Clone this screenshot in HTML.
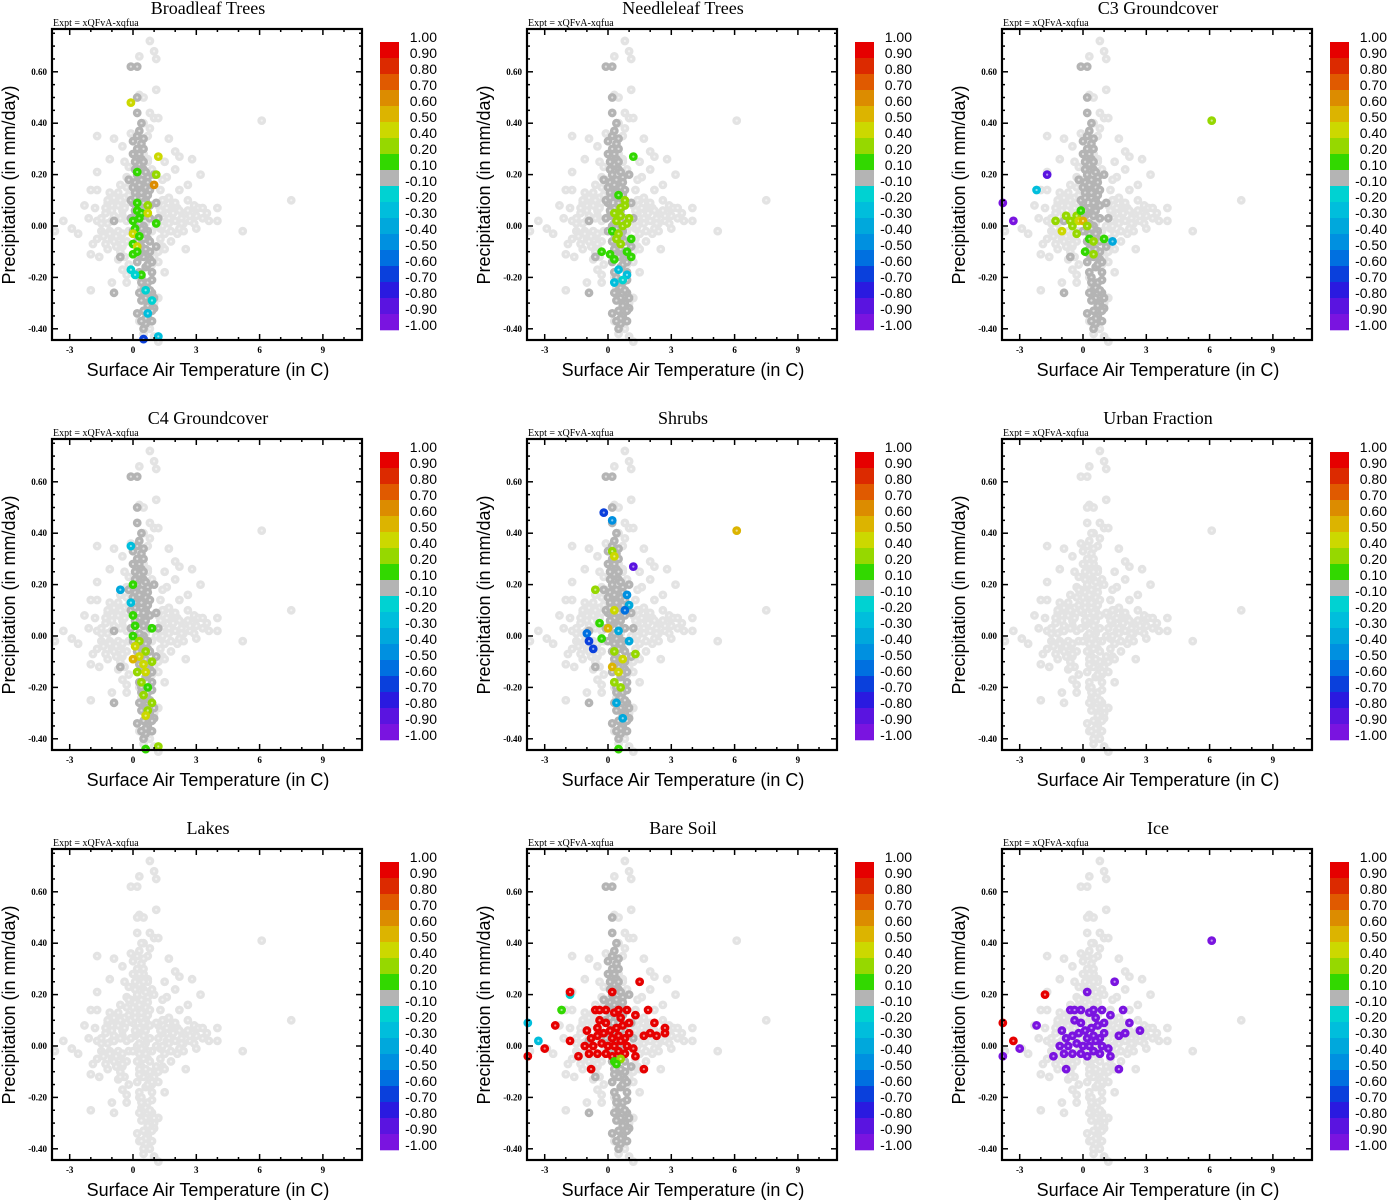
<!DOCTYPE html>
<html><head><meta charset="utf-8"><style>
body{margin:0;background:#fff;}
svg{display:block;}
</style></head><body>
<svg id="fig" width="1388" height="1200" xmlns="http://www.w3.org/2000/svg"></svg>
<script>
// ---- shared data ----
const titles = ["Broadleaf Trees","Needleleaf Trees","C3 Groundcover","C4 Groundcover","Shrubs","Urban Fraction","Lakes","Bare Soil","Ice"];
const xTicks = [-3,0,3,6,9];
const yTicks = [-0.40,-0.20,0.00,0.20,0.40,0.60];
const cbLabels = ["1.00","0.90","0.80","0.70","0.60","0.50","0.40","0.20","0.10","-0.10","-0.20","-0.30","-0.40","-0.50","-0.60","-0.70","-0.80","-0.90","-1.00"];
const cbBounds = [1,0.9,0.8,0.7,0.6,0.5,0.4,0.2,0.1,-0.1,-0.2,-0.3,-0.4,-0.5,-0.6,-0.7,-0.8,-0.9,-1];
const cbColors = ["#e60000","#dc2a00","#e05a00","#dc8c00","#dcb400","#ccd800","#96d800","#32d800","#b4b4b4","#00d2d2","#00bedc","#00a8dc","#0090e0","#0070e0","#0a40dc","#2a1ae0","#5a14e0","#7a14e0"];
// light cloud (temperature C, precip mm/day)
const cloudX = [0.8,1.0,1.1,0.3,1.1,0.5,0.3,0.8,1.0,1.2,6.1,-1.7,-0.9,-0.1,1.7,-0.5,2.0,2.2,-1.1,2.8,1.5,0.7,-1.7,2.0,3.2,-0.3,1.6,2.6,-2.0,-1.7,-0.7,-1.1,2.2,-2.3,-1.0,2.6,2.9,3.5,4.0,7.5,2.0,1.8,2.5,3.0,3.3,-3.3,-1.7,-0.5,-2.9,-2.6,-1.5,-0.7,1.6,2.2,2.7,3.6,4.0,5.2,-1.7,-1.0,-0.3,1.3,1.8,1.4,2.5,-1.2,-2.0,-1.6,-0.6,1.0,-0.2,-1.0,-0.3,-2.0,-3.7,-1.3,-0.9,-0.5,-1.4,-1.1,-0.8,1.4,1.7,2.1,2.4,2.8,3.1,1.5,1.9,2.3,-1.2,-0.8,-0.4,-1.5,-1.0,-0.6,-0.2,1.2,1.5,-0.9,-0.5,-1.3,2.6,3.0,1.1,0.9,1.3,0.2,0.6,0.4,0.9,0.5,0.8,0.7,0.4,1.0,0.6,0.8,0.5,1.2,0.3,0.6,0.9,-0.1,0.5,0.7,1.2,0.3,1.0,
 -1.2,-0.9,-0.6,-0.3,-1.4,-1.1,-0.8,-0.5,-0.2,-1.3,-1.0,-0.7,-0.4,-1.5,-1.2,-0.9,-0.6,-0.3,-0.8,-0.5,1.4,1.7,2.0,2.3,1.5,1.8,2.1,2.4,2.7,1.3,1.6,1.9,2.2,1.4,1.7,2.0,1.2,1.5,-0.7,-0.4,-0.6,-0.3,-0.2,-0.4,-0.5,-0.3,1.3,1.4,1.2,1.5,-1.8,-2.1,-1.9,3.3,2.9];
const cloudY = [0.72,0.68,0.65,0.66,0.53,0.50,0.51,0.44,0.42,0.42,0.41,0.35,0.34,0.36,0.34,0.31,0.29,0.27,0.26,0.26,0.25,0.26,0.21,0.22,0.20,0.19,0.19,0.16,0.14,0.14,0.13,0.13,0.14,0.08,0.08,0.10,0.08,0.05,0.07,0.10,0.08,0.06,0.05,0.04,0.03,0.02,0.02,0.04,-0.01,-0.03,-0.02,-0.02,0.02,-0.01,0.02,0.02,0.02,-0.02,-0.05,-0.05,-0.06,-0.05,-0.06,-0.08,-0.09,-0.09,-0.11,-0.12,-0.10,-0.12,-0.15,-0.22,-0.22,-0.25,-0.02,0.05,0.04,0.06,-0.03,-0.02,-0.07,0.05,0.03,0.07,0.01,0.05,0.07,0.10,0.09,0.03,0.09,0.10,0.11,0.01,0.02,-0.04,0.12,0.08,-0.03,-0.06,-0.08,-0.07,0.06,-0.01,0.00,-0.02,-0.01,0.15,0.01,0.10,0.22,0.40,0.38,0.35,-0.24,-0.30,-0.36,-0.40,-0.42,-0.45,-0.20,-0.33,-0.15,0.18,0.28,0.25,-0.28,-0.37,-0.43,
 0.01,0.02,0.03,0.02,-0.04,-0.03,-0.04,-0.03,-0.02,0.07,0.06,0.08,0.07,0.03,0.10,0.11,0.10,0.09,-0.08,-0.07,0.00,0.01,0.02,0.01,-0.03,-0.02,-0.03,-0.02,0.04,0.06,0.07,0.05,0.06,0.10,0.11,0.09,-0.10,-0.09,-0.13,-0.12,0.16,0.15,0.23,0.25,-0.17,-0.19,0.14,0.18,-0.14,-0.18,0.07,0.03,-0.07,0.07,0.01];
// core column (dark grey in most panels)
const coreX = [-0.1,0.2,0.2,0.2,0.4,0.3,0.2,0.0,0.4,0.2,0.5,0.2,0.4,0.3,0.1,0.5,0.2,0.4,0.1,0.3,0.5,0.2,0.4,0.6,0.0,0.3,0.6,0.1,0.8,0.5,0.3,0.7,0.4,0.8,0.5,0.2,0.6,0.9,0.4,0.7,0.5,0.9,0.6,0.8,1.0,0.7,0.9,0.6,-0.9,-0.9,-0.2,1.1,1.2,0.2,1.0,-0.6,0.3,0.5,0.7,0.1,0.3,0.6,0.4,0.2,0.5,0.3,0.6,0.8,0.4,0.7,0.2,0.5,0.3,
 0.0,0.1,0.0,-0.1,0.1,-0.1,0.0,0.2,0.6,0.7,0.8,0.7,0.6,0.7,0.9,0.8,1.0,0.9,0.4,0.3,0.5,0.6,0.5,0.4,0.3,0.6,0.7,0.5,0.8,0.6,0.4,0.3,0.5,1.1,0.9,0.2,0.1,0.8];
const coreY = [0.62,0.62,0.50,0.44,0.40,0.37,0.35,0.33,0.32,0.30,0.30,0.27,0.26,0.24,0.22,0.22,0.20,0.18,0.17,0.15,0.14,0.12,0.11,0.10,0.09,0.07,0.06,0.04,0.03,0.00,-0.03,-0.05,-0.08,-0.10,-0.12,-0.14,-0.16,-0.18,-0.20,-0.22,-0.25,-0.26,-0.28,-0.30,-0.32,-0.35,-0.37,-0.38,0.02,-0.26,0.18,0.09,0.03,-0.34,0.20,-0.12,0.28,0.25,0.19,0.13,0.16,0.08,-0.01,0.00,-0.05,-0.18,-0.24,-0.13,-0.29,-0.31,0.05,0.34,-0.11,
 0.28,0.25,0.15,0.10,0.06,0.03,-0.02,-0.06,0.15,0.12,0.08,-0.02,-0.09,-0.15,-0.21,-0.25,-0.28,-0.33,-0.22,-0.26,-0.33,-0.36,-0.40,-0.37,-0.09,0.21,0.17,0.04,-0.06,-0.03,0.13,0.01,0.09,-0.08,-0.14,-0.06,0.11,0.14];
// panel colour points
const p1X=[-0.1,1.2,0.2,1.1,1.0,0.2,0.7,0.2,0.4,0.7,0,0.3,1.1,0.1,0,0.3,0,0.2,0,0.2,0.4,-0.1,0.1,0.6,0.9,0.7,1.2,0.5];
const p1Y=[0.48,0.27,0.21,0.20,0.16,0.09,0.08,0.06,0.05,0.05,0.02,0.03,0.01,-0.01,-0.03,-0.04,-0.07,-0.08,-0.11,-0.10,-0.19,-0.17,-0.19,-0.25,-0.29,-0.34,-0.43,-0.44];
const p1V=[0.45,0.45,0.15,0.3,0.65,0.15,0.3,0.15,0.15,0.45,0.15,0.15,0.15,0.15,0.45,0.15,0.15,0.45,0.15,0.15,0.15,-0.15,-0.15,-0.15,-0.15,-0.25,-0.25,-0.65];
const p2X=[1.2,0.5,0.8,0.3,0.6,1.0,0.4,0.7,0.9,0.2,0.5,1.1,0.6,-0.3,0.1,0.9,0.3,1.1,0.5,0.9,0.7,0.3,0.6,0.4,0.8];
const p2Y=[0.27,0.12,0.08,0.05,0.04,0.03,0.02,0.00,0.01,-0.02,-0.03,-0.05,-0.07,-0.10,-0.11,-0.10,-0.13,-0.12,-0.17,-0.19,-0.21,-0.22,0.07,-0.05,0.10];
const p2V=[0.15,0.15,0.3,0.3,0.3,0.3,0.3,0.3,0.3,0.15,0.3,0.15,0.3,0.15,0.15,0.15,0.15,0.15,-0.25,-0.25,-0.15,-0.25,0.3,0.3,0.3];
const p3X=[6.1,-3.8,-3.3,-2.2,-1.7,-1.3,-1.0,-0.5,-0.3,-0.6,-0.2,0.0,-0.3,0.2,-0.8,0.3,0.5,1.0,1.4,0.5,0.1,-0.1];
const p3Y=[0.41,0.09,0.02,0.14,0.20,0.02,-0.02,0.00,0.04,0.02,0.02,0.02,-0.03,0.00,0.04,-0.05,-0.06,-0.05,-0.06,-0.11,-0.10,0.06];
const p3V=[0.3,-0.95,-0.95,-0.25,-0.85,0.3,0.45,0.3,0.3,0.3,0.45,0.55,0.3,0.3,0.3,0.15,0.3,0.15,-0.35,0.3,0.15,0.15];
const p4X=[-0.6,0.0,-0.1,0,0.1,0.9,0.0,0.3,0.1,0.6,0.3,0,0.5,0.9,0.2,0.6,0.4,0.7,0.5,0.9,0.7,0.6,1.2,0.6,-0.1];
const p4Y=[0.18,0.20,0.13,0.08,0.04,0.03,0.00,-0.02,-0.04,-0.06,-0.08,-0.09,-0.11,-0.10,-0.14,-0.14,-0.18,-0.20,-0.23,-0.26,-0.29,-0.31,-0.43,-0.44,0.35];
const p4V=[-0.35,0.15,-0.25,0.15,0.15,0.15,0.15,0.3,0.45,0.3,0.45,0.55,0.45,0.3,0.3,0.45,0.3,0.15,0.3,0.3,0.3,0.45,0.3,0.15,-0.25];
const p5X=[6.1,-0.2,0.2,0.2,0.3,1.2,-0.6,0.9,1.0,0.3,0.8,-0.4,0,0.5,-1.0,-0.9,-0.3,1.0,-0.7,0.3,1.3,0.7,0.2,0.5,0.3,0.6,0.4,0.7,0.5];
const p5Y=[0.41,0.48,0.45,0.33,0.31,0.27,0.18,0.16,0.12,0.10,0.10,0.05,0.03,0.02,0.01,-0.02,-0.01,-0.02,-0.05,-0.06,-0.07,-0.09,-0.12,-0.14,-0.18,-0.20,-0.26,-0.32,-0.44];
const p5V=[0.55,-0.65,-0.45,0.3,0.45,-0.85,0.3,-0.45,-0.35,0.45,-0.55,0.15,0.55,-0.35,-0.55,-0.65,0.15,-0.35,-0.65,0.3,0.3,0.45,0.55,0.45,0.3,0.3,-0.35,-0.35,0.15];
const bsX=[-1.8,-1.8,-2.2,-3.8,-3.3,-2.5,-1.8,-3.0,-3.8,-1.4,-0.8,0.2,1.5,1.3,1.9,2.2,2.7,2.7,2.0,1.7,2.3,1.2,1.3,1.7,-0.6,-0.4,-0.1,0.3,0.5,0.9,-0.4,-0.1,-0.5,0.6,0.1,0.4,0.7,1.0,-1.0,-0.8,-0.5,-0.2,0.2,0.5,0.8,1.0,-1.1,-0.7,-0.3,0,0.3,0.6,0.9,-0.9,-0.5,-0.1,0.2,0.5,0.8,0.3,0.6,0.4];
const bsY=[0.20,0.21,0.14,0.09,0.02,0.08,0.02,-0.01,-0.04,-0.04,-0.09,0.21,0.25,0.12,0.14,0.09,0.07,0.05,0.05,0.04,0.04,-0.01,-0.04,-0.09,0.14,0.14,0.14,0.13,0.14,0.14,0.10,0.09,0.07,0.11,0.06,0.07,0.08,0.09,0.06,0.03,0.04,0.05,0.03,0.04,0.03,0.05,0.00,0.00,0.01,0.00,0.00,0.02,0.00,-0.03,-0.03,-0.03,-0.04,-0.02,-0.03,-0.06,-0.05,-0.07];
const bsV=[-0.15,0.95,0.15,-0.25,-0.25,0.95,0.95,0.95,0.95,0.95,0.95,0.95,0.95,0.95,0.95,0.95,0.95,0.95,0.95,0.95,0.95,0.95,0.95,0.95,0.95,0.95,0.95,0.95,0.95,0.95,0.95,0.95,0.95,0.95,0.95,0.95,0.95,0.95,0.95,0.95,0.95,0.95,0.95,0.95,0.95,0.95,0.95,0.95,0.95,0.95,0.95,0.95,0.95,0.95,0.95,0.95,0.95,0.95,0.95,0.15,0.3,0.15];
const iceX=[-1.8,-3.8,-3.3,-3.8,-3.0,6.1,-2.2,-1.0,-0.8,-0.5,-0.2,0.2,0.5,0.8,1.0,-1.1,-0.7,-0.3,0,0.3,0.6,0.9,-0.9,-0.5,-0.1,0.2,0.5,0.8,-0.6,-0.4,-0.1,0.3,0.5,0.9,-0.4,-0.1,0.6,0.1,0.4,0.7,1.0,1.5,1.3,1.9,2.2,2.7,2.0,1.7,1.2,1.3,1.7,-0.8,0.2,-1.4];
const iceY=[0.20,0.09,0.02,-0.04,-0.01,0.41,0.08,0.06,0.03,0.04,0.05,0.03,0.04,0.03,0.05,0.00,0.00,0.01,0.00,0.00,0.02,0.00,-0.03,-0.03,-0.03,-0.04,-0.02,-0.03,0.14,0.14,0.14,0.13,0.14,0.14,0.10,0.09,0.11,0.06,0.07,0.08,0.09,0.25,0.12,0.14,0.09,0.06,0.05,0.04,-0.01,-0.04,-0.09,-0.09,0.21,-0.04];
const iceV=[0.95,0.95,0.95,-0.95,-0.95,-0.95,-0.95,-0.95,-0.95,-0.95,-0.95,-0.95,-0.95,-0.95,-0.95,-0.95,-0.95,-0.95,-0.95,-0.95,-0.95,-0.95,-0.95,-0.95,-0.95,-0.95,-0.95,-0.95,-0.95,-0.95,-0.95,-0.95,-0.95,-0.95,-0.95,-0.95,-0.95,-0.95,-0.95,-0.95,-0.95,-0.95,-0.95,-0.95,-0.95,-0.95,-0.95,-0.95,-0.95,-0.95,-0.95,-0.95,-0.95,-0.95];
const panelPts = [[p1X,p1Y,p1V],[p2X,p2Y,p2V],[p3X,p3Y,p3V],[p4X,p4Y,p4V],[p5X,p5Y,p5V],null,null,[bsX,bsY,bsV],[iceX,iceY,iceV]];
const coreDark = [true,true,true,true,true,false,false,true,false];

// ---- drawing ----
const NS="http://www.w3.org/2000/svg";
const svg=document.getElementById('fig');
function mk(tag,attrs,parent){const e=document.createElementNS(NS,tag);for(const k in attrs)e.setAttribute(k,attrs[k]);parent.appendChild(e);return e;}
const X0=52,X1=362,Y0=29,Y1=340;
function sx(t){return 133+t*21.1;}
function sy(p){return 226-p*257;}
function colorFor(v){for(let i=0;i<cbColors.length;i++){if(v<=cbBounds[i]&&v>=cbBounds[i+1])return cbColors[i];}return "#b4b4b4";}
function dot(g,x,y,c){
  if(x<-3.9||x>10.8||y<-0.45||y>0.77)return;
  const e=mk('circle',{cx:sx(x),cy:sy(y),r:3.6,fill:c,stroke:c,"stroke-width":1.6},g);
  
  
  mk('circle',{cx:sx(x),cy:sy(y),r:1.1,fill:"#fff","fill-opacity":0.55},g);
}
titles.forEach((t,i)=>{
  const ox=(i%3)*475, oy=Math.floor(i/3)*410;
  const g=mk('g',{transform:`translate(${ox},${oy})`},svg);
  
  
  const tt=mk('text',{x:208,y:14,"text-anchor":"middle","font-family":"Liberation Serif, serif","font-size":18},g);tt.textContent=t;
  
  const ex=mk('text',{x:53,y:26,"font-family":"Liberation Serif, serif","font-size":10},g);ex.textContent="Expt = xQFvA-xqfua";
  
  const pg=mk('g',{},g);
  
  cloudX.forEach((x,j)=>dot(pg,x,cloudY[j],"#e3e3e3"));
  coreX.forEach((x,j)=>dot(pg,x,coreY[j],coreDark[i]?"#b4b4b4":"#e3e3e3"));
  const pp=panelPts[i];
  if(pp)pp[0].forEach((x,j)=>dot(pg,x,pp[1][j],colorFor(pp[2][j])));
  // frame
  const fr=mk('rect',{x:X0,y:Y0,width:X1-X0,height:Y1-Y0,fill:"none",stroke:"#000","stroke-width":2.2},g);
  
  for(let v=-3;v<=10;v++){const x=sx(v);const L=(v%3===0)?6:3;
    mk('line',{x1:x,y1:Y1,x2:x,y2:Y1-L,stroke:"#000","stroke-width":1.5},g);
    mk('line',{x1:x,y1:Y0,x2:x,y2:Y0+L,stroke:"#000","stroke-width":1.5},g);}
  for(let k=-8;k<=15;k++){const v=k*0.05;const y=sy(v);if(y<Y0||y>Y1)continue;const L=(k%4===0)?6:3;
    mk('line',{x1:X0,y1:y,x2:X0+L,y2:y,stroke:"#000","stroke-width":1.5},g);
    mk('line',{x1:X1,y1:y,x2:X1-L,y2:y,stroke:"#000","stroke-width":1.5},g);}
  xTicks.forEach(v=>{const e=mk('text',{x:sx(v),y:353,"text-anchor":"middle","font-family":"Liberation Serif, serif","font-size":9,"font-weight":"bold"},g);e.textContent=v;
    });
  yTicks.forEach(v=>{const e=mk('text',{x:47,y:sy(v)+3,"text-anchor":"end","font-family":"Liberation Serif, serif","font-size":9,"font-weight":"bold"},g);e.textContent=v.toFixed(2);
    });
  const xt=mk('text',{x:208,y:376,"text-anchor":"middle","font-family":"Liberation Sans, sans-serif","font-size":18},g);xt.textContent="Surface Air Temperature (in C)";
  
  const yt=mk('text',{x:0,y:0,transform:"translate(15,185) rotate(-90)","text-anchor":"middle","font-family":"Liberation Sans, sans-serif","font-size":18},g);yt.textContent="Precipitation (in mm/day)";
  
  const cb=mk('g',{},g);
  cbColors.forEach((c,j)=>mk('rect',{x:380,y:42+j*16,width:19,height:16.3,fill:c},cb));
  cbLabels.forEach((l,j)=>{const e=mk('text',{x:437,y:42+j*16,"text-anchor":"end","font-family":"Liberation Sans, sans-serif","font-size":14},cb);e.textContent=l;
    });
});
</script>
</body></html>
